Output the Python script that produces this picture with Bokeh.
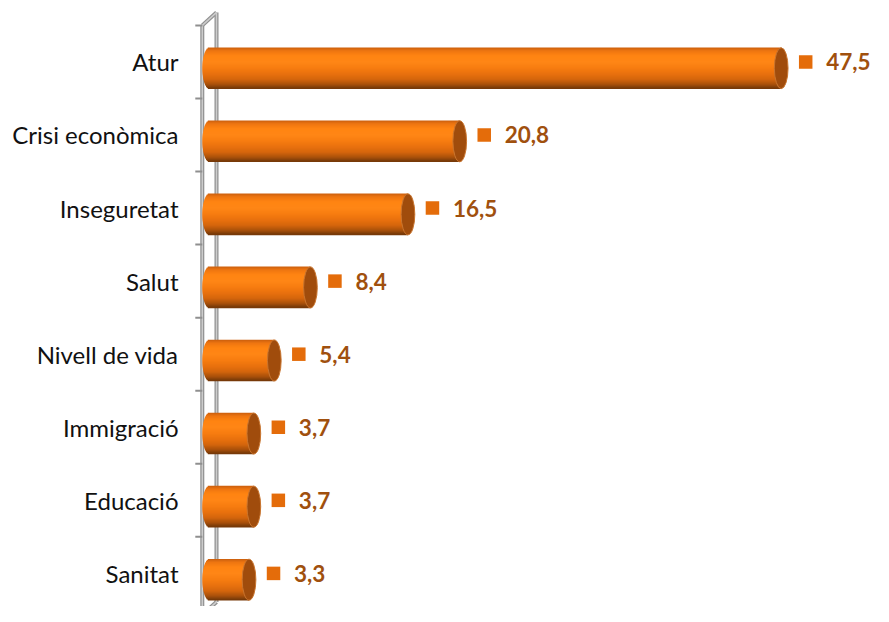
import math
from bokeh.plotting import figure
from bokeh.models import FixedTicker, Range1d, ColumnDataSource
from bokeh.core.properties import value
from bokeh.embed import file_html
from bokeh.resources import INLINE

# ---- data ----
categories = ["Atur", "Crisi econòmica", "Inseguretat", "Salut",
              "Nivell de vida", "Immigració", "Educació", "Sanitat"]
values = [47.5, 20.8, 16.5, 8.4, 5.4, 3.7, 3.7, 3.3]

n = len(categories)
ypos = [n - 1 - i for i in range(n)]  # Atur at top
labels = [f"{v:.1f}".replace(".", ",") for v in values]

# ---- geometry (pixels -> data) ----
W, H = 873, 606
FRAME_LEFT = 186
X0_PX = 208.8          # pixel of value 0
PX_X = 12.04           # px per x unit
PX_Y = 73.07           # px per category
YBOT_PX = 572.9        # pixel of the lowest category centre
x_start = (FRAME_LEFT - X0_PX) / PX_X
x_end = (W - X0_PX) / PX_X
y_start = (YBOT_PX - H) / PX_Y
y_end = YBOT_PX / PX_Y

p = figure(width=W, height=H, output_backend="svg", toolbar_location=None,
           x_range=Range1d(x_start, x_end), y_range=Range1d(y_start, y_end),
           min_border_left=FRAME_LEFT, min_border_right=0, min_border_top=0,
           min_border_bottom=0)
p.outline_line_color = None
p.xgrid.visible = False
p.ygrid.visible = False
p.xaxis.visible = False
p.background_fill_color = "white"

yax = p.yaxis[0]
yax.ticker = FixedTicker(ticks=ypos)
yax.major_label_overrides = {y: c for y, c in zip(ypos, categories)}
yax.axis_line_color = None
yax.major_tick_line_color = None
yax.minor_tick_line_color = None
yax.major_tick_out = 0
yax.major_tick_in = 0
yax.major_label_standoff = 8
yax.major_label_text_font = "Lato"
yax.major_label_text_font_size = "24px"
yax.major_label_text_color = "#111111"

# ---- wall (3D-ish axis) ----
xo = (201.8 - X0_PX) / PX_X
xi = (216.0 - X0_PX) / PX_X
ytop_o = n - 0.5
ytop_i = ytop_o + 13.0 / PX_Y
ybot_o = -0.5 - 5.0 / PX_Y
ybot_i = ybot_o + 13.0 / PX_Y
wall_x = [[xo, xo], [xi, xi], [xo, xi], [xo, xi]]
wall_y = [[ytop_o, ybot_o], [ytop_i, ybot_i], [ytop_o, ytop_i], [ybot_o, ybot_i]]
p.multi_line(wall_x, wall_y, line_color="#8f8f8f", line_width=4)
p.multi_line(wall_x, wall_y, line_color="#cccccc", line_width=1.6)
tick_y = [n - 0.5 - k for k in range(n)]
p.segment(x0=[xo - 7 / PX_X] * n, y0=tick_y, x1=[xo] * n, y1=tick_y,
          line_color="#8f8f8f", line_width=2)

# ---- cylinder bars ----
shift = -6.3 / PX_Y
half_h = 20.5 / PX_Y
a = 6.9 / PX_X
stops = [(0.0, (0xC9, 0x5E, 0x0E)), (0.08, (0xEE, 0x75, 0x10)), (0.2, (0xFF, 0x84, 0x12)),
         (0.35, (0xFF, 0x86, 0x16)), (0.5, (0xF7, 0x7D, 0x10)), (0.65, (0xE8, 0x71, 0x0E)),
         (0.78, (0xD4, 0x65, 0x0C)), (0.9, (0xA8, 0x50, 0x0B)), (1.0, (0x70, 0x36, 0x08))]


def color_at(t):
    for (t0, c0), (t1, c1) in zip(stops[:-1], stops[1:]):
        if t0 <= t <= t1:
            f = (t - t0) / (t1 - t0)
            c = [round(c0[k] + (c1[k] - c0[k]) * f) for k in range(3)]
            return "#%02x%02x%02x" % tuple(c)
    return "#%02x%02x%02x" % stops[-1][1]


NS = 41
for j in range(NS):
    t = (j + 0.5) / NS
    h = 1 - 2 * t
    yc = [y + shift + h * half_h for y in ypos]
    left = -a * math.sqrt(max(0.0, 1 - h * h))
    p.hbar(y=yc, left=[left] * n, right=values, height=2 * half_h / NS * 1.6,
           fill_color=color_at(t), line_color=None)

p.ellipse(x=values, y=[y + shift for y in ypos], width=13.7, height=41,
          width_units="screen", height_units="screen",
          fill_color="#a04c0c", line_color="#c9752f", line_width=1)

# ---- value labels ----
src = ColumnDataSource(dict(v=values, y=ypos, lab=labels,
                            sq=[v + 24.5 / PX_X for v in values]))
p.scatter(x="sq", y="y", source=src, marker="square", size=13.5,
          fill_color="#e46c0a", line_color=None)
p.text(x="v", y="y", text="lab", source=src, x_offset=45,
       text_font=value("Lato"), text_font_style="bold", text_font_size="22.5px",
       text_color="#a0500e", text_baseline="middle", text_align="left")

open("out.html", "w").write(file_html(p, INLINE))
